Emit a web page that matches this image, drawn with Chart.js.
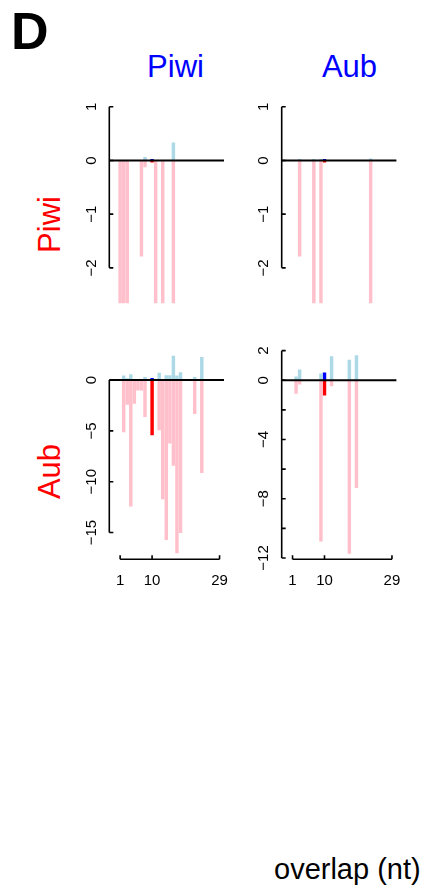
<!DOCTYPE html>
<html><head><meta charset="utf-8">
<script src="https://cdn.jsdelivr.net/npm/chart.js@4/dist/chart.umd.min.js"></script>
<style>
html,body{margin:0;padding:0;background:#fff;}
#wrap{position:relative;width:427px;height:892px;overflow:hidden;font-family:"Liberation Sans",Arial,Helvetica,sans-serif;}
canvas{position:absolute;left:0;top:0;}
.t{position:absolute;line-height:1;white-space:nowrap;}
</style></head><body>
<div id="wrap">
<div class="t" style="left:11px;top:5px;font-size:52px;font-weight:bold;color:#000">D</div>
<div class="t" style="left:75.5px;width:200px;text-align:center;top:51px;font-size:31px;color:#0000FF">Piwi</div>
<div class="t" style="left:249.5px;width:200px;text-align:center;top:51px;font-size:31px;color:#0000FF">Aub</div>
<div class="t" style="left:-51.2px;width:200px;text-align:center;top:208.5px;font-size:31px;color:#FF0000;transform:rotate(-90deg)">Piwi</div>
<div class="t" style="left:-51.2px;width:200px;text-align:center;top:456px;font-size:31px;color:#FF0000;transform:rotate(-90deg)">Aub</div>
<div class="t" style="left:274px;top:855px;font-size:29px;color:#000">overlap (nt)</div>
<canvas id="c1" width="427" height="892"></canvas>
<canvas id="c2" width="427" height="892"></canvas>
<canvas id="c3" width="427" height="892"></canvas>
<canvas id="c4" width="427" height="892"></canvas>
</div>
<script>
// ---- data (overlap position in nt -> value) ----
// x-axis tick labels (overlap, nt)
const xTickLabels = [1, 10, 29];

// Row Piwi, column Piwi
const piwiPiwiNegX = [1, 2, 3, 7, 8, 11, 13, 16];
const piwiPiwiNegY = [-2.7, -2.7, -2.7, -1.78, -0.12, -2.7, -2.7, -2.7];
const piwiPiwiPosX = [8, 16];
const piwiPiwiPosY = [0.06, 0.33];
const piwiPiwiAt10Neg = [-0.03];
const piwiPiwiAt10Pos = [0.02];

// Row Piwi, column Aub
const piwiAubNegX = [3, 7, 9, 23];
const piwiAubNegY = [-1.78, -2.7, -2.7, -2.7];
const piwiAubPosX = [3, 7, 9, 23];
const piwiAubPosY = [0.02, 0.02, 0.02, 0.03];
const piwiAubAt10Neg = [-0.03];
const piwiAubAt10Pos = [0.02];

// Row Aub, column Piwi
const aubPiwiNegX = [2, 3, 4, 5, 6, 7, 8, 12, 13, 14, 15, 16, 17, 18, 22, 24];
const aubPiwiNegY = [-5.1, -2.4, -12.4, -2.3, -1.0, -1.0, -3.6, -4.9, -11.7, -15.7, -6.2, -8.4, -17.0, -15.0, -3.3, -9.1];
const aubPiwiPosX = [2, 3, 4, 8, 12, 14, 15, 16, 17, 18, 22, 24];
const aubPiwiPosY = [0.4, 0.13, 0.53, 0.27, 0.67, 0.43, 0.43, 2.36, 0.4, 0.72, 0.27, 2.23];
const aubPiwiAt10Neg = [-5.4];
const aubPiwiAt10Pos = [0.17];

// Row Aub, column Aub
const aubAubNegX = [2, 3, 9, 12, 17, 19];
const aubAubNegY = [-0.88, -0.27, -10.86, -0.38, -11.69, -7.25];
const aubAubPosX = [2, 3, 9, 12, 17, 19];
const aubAubPosY = [0.23, 0.7, 0.43, 1.6, 1.37, 1.67];
const aubAubAt10Neg = [-1.0];
const aubAubAt10Pos = [0.5];

// y tick values / which are labelled
const yTicksPiwiRow = [1, 0, -1, -2];
const yLabelsPiwiRow = [1, 0, -1, -2];
const yTicksAubPiwi = [0, -5, -10, -15];
const yLabelsAubPiwi = [0, -5, -10, -15];
const yTicksAubAub = [2, 0, -2, -4, -6, -8, -10, -12];
const yLabelsAubAub = [2, 0, -4, -8, -12];

const PINK = '#FFC0CB', LIGHTBLUE = '#ADD8E6', RED = '#FF0000', BLUE = '#0000FF';
const FONT = '"Liberation Sans", Arial, Helvetica, sans-serif';

function pts(xs, ys) { return xs.map((x, i) => ({x: x, y: ys[i]})); }
function fmt(v) { return v < 0 ? '\u2212' + Math.abs(v) : String(v); }

function rAxes(yTicks, yLabels, showX) {
  return {
    id: 'rAxes',
    afterDatasetsDraw(chart) {
      const ctx = chart.ctx, xs = chart.scales.x, ys = chart.scales.y, a = chart.chartArea;
      ctx.save();
      ctx.strokeStyle = '#000';
      ctx.fillStyle = '#000';
      // zero line
      const y0 = ys.getPixelForValue(0);
      ctx.lineWidth = 2;
      ctx.beginPath(); ctx.moveTo(a.left, y0); ctx.lineTo(a.right, y0); ctx.stroke();
      // y axis
      ctx.lineWidth = 1.6;
      const yt = ys.getPixelForValue(Math.max(...yTicks)), yb = ys.getPixelForValue(Math.min(...yTicks));
      ctx.beginPath(); ctx.moveTo(a.left, yt); ctx.lineTo(a.left, yb);
      yTicks.forEach(v => { const p = ys.getPixelForValue(v); ctx.moveTo(a.left, p); ctx.lineTo(a.left + 4, p); });
      ctx.stroke();
      ctx.font = '15px ' + FONT;
      ctx.textAlign = 'center'; ctx.textBaseline = 'alphabetic';
      yLabels.forEach(v => {
        const p = ys.getPixelForValue(v);
        ctx.save(); ctx.translate(a.left - 13.6, p); ctx.rotate(-Math.PI / 2);
        ctx.fillText(fmt(v), 0, 0); ctx.restore();
      });
      if (showX) {
        const yy = a.bottom;
        const x1 = xs.getPixelForValue(Math.min(...xTickLabels)), x2 = xs.getPixelForValue(Math.max(...xTickLabels));
        ctx.beginPath(); ctx.moveTo(x1, yy); ctx.lineTo(x2, yy);
        xTickLabels.forEach(v => { const p = xs.getPixelForValue(v); ctx.moveTo(p, yy); ctx.lineTo(p, yy - 4); });
        ctx.stroke();
        xTickLabels.forEach(v => ctx.fillText(String(v), xs.getPixelForValue(v), yy + 26));
      }
      ctx.restore();
    }
  };
}

function ds(data, color) {
  return { data: data, backgroundColor: color, borderWidth: 0, barThickness: 2.8, grouped: false, clip: 0 };
}

function panel(id, pad, ymin, ymax, series, yTicks, yLabels, showX) {
  new Chart(document.getElementById(id), {
    type: 'bar',
    data: { datasets: series },
    options: {
      responsive: false, animation: false, devicePixelRatio: 1,
      layout: { padding: pad },
      plugins: { legend: { display: false }, tooltip: { enabled: false }, title: { display: false } },
      scales: {
        x: { type: 'linear', min: -2.05, max: 30.25, offset: false, display: false },
        y: { type: 'linear', min: ymin, max: ymax, display: false }
      }
    },
    plugins: [rAxes(yTicks, yLabels, showX)]
  });
}

panel('c1', {left: 109.3, right: 203, top: 88, bottom: 588.7}, -2.66, 1.35, [
  ds(pts(piwiPiwiNegX, piwiPiwiNegY), PINK),
  ds(pts(piwiPiwiPosX, piwiPiwiPosY), LIGHTBLUE),
  ds(pts([10], piwiPiwiAt10Neg), RED),
  ds(pts([10], piwiPiwiAt10Pos), BLUE)
], yTicksPiwiRow, yLabelsPiwiRow, false);

panel('c2', {left: 281.7, right: 30.6, top: 88, bottom: 588.7}, -2.66, 1.35, [
  ds(pts(piwiAubNegX, piwiAubNegY), PINK),
  ds(pts(piwiAubPosX, piwiAubPosY), LIGHTBLUE),
  ds(pts([10], piwiAubAt10Neg), RED),
  ds(pts([10], piwiAubAt10Pos), BLUE)
], yTicksPiwiRow, yLabelsPiwiRow, false);

panel('c3', {left: 109.3, right: 203, top: 344, bottom: 332.7}, -17.63, 3.54, [
  ds(pts(aubPiwiNegX, aubPiwiNegY), PINK),
  ds(pts(aubPiwiPosX, aubPiwiPosY), LIGHTBLUE),
  ds(pts([10], aubPiwiAt10Neg), RED),
  ds(pts([10], aubPiwiAt10Pos), BLUE)
], yTicksAubPiwi, yLabelsAubPiwi, true);

panel('c4', {left: 281.7, right: 30.6, top: 344, bottom: 332.7}, -12.09, 2.45, [
  ds(pts(aubAubNegX, aubAubNegY), PINK),
  ds(pts(aubAubPosX, aubAubPosY), LIGHTBLUE),
  ds(pts([10], aubAubAt10Neg), RED),
  ds(pts([10], aubAubAt10Pos), BLUE)
], yTicksAubAub, yLabelsAubAub, true);
</script>
</body></html>
